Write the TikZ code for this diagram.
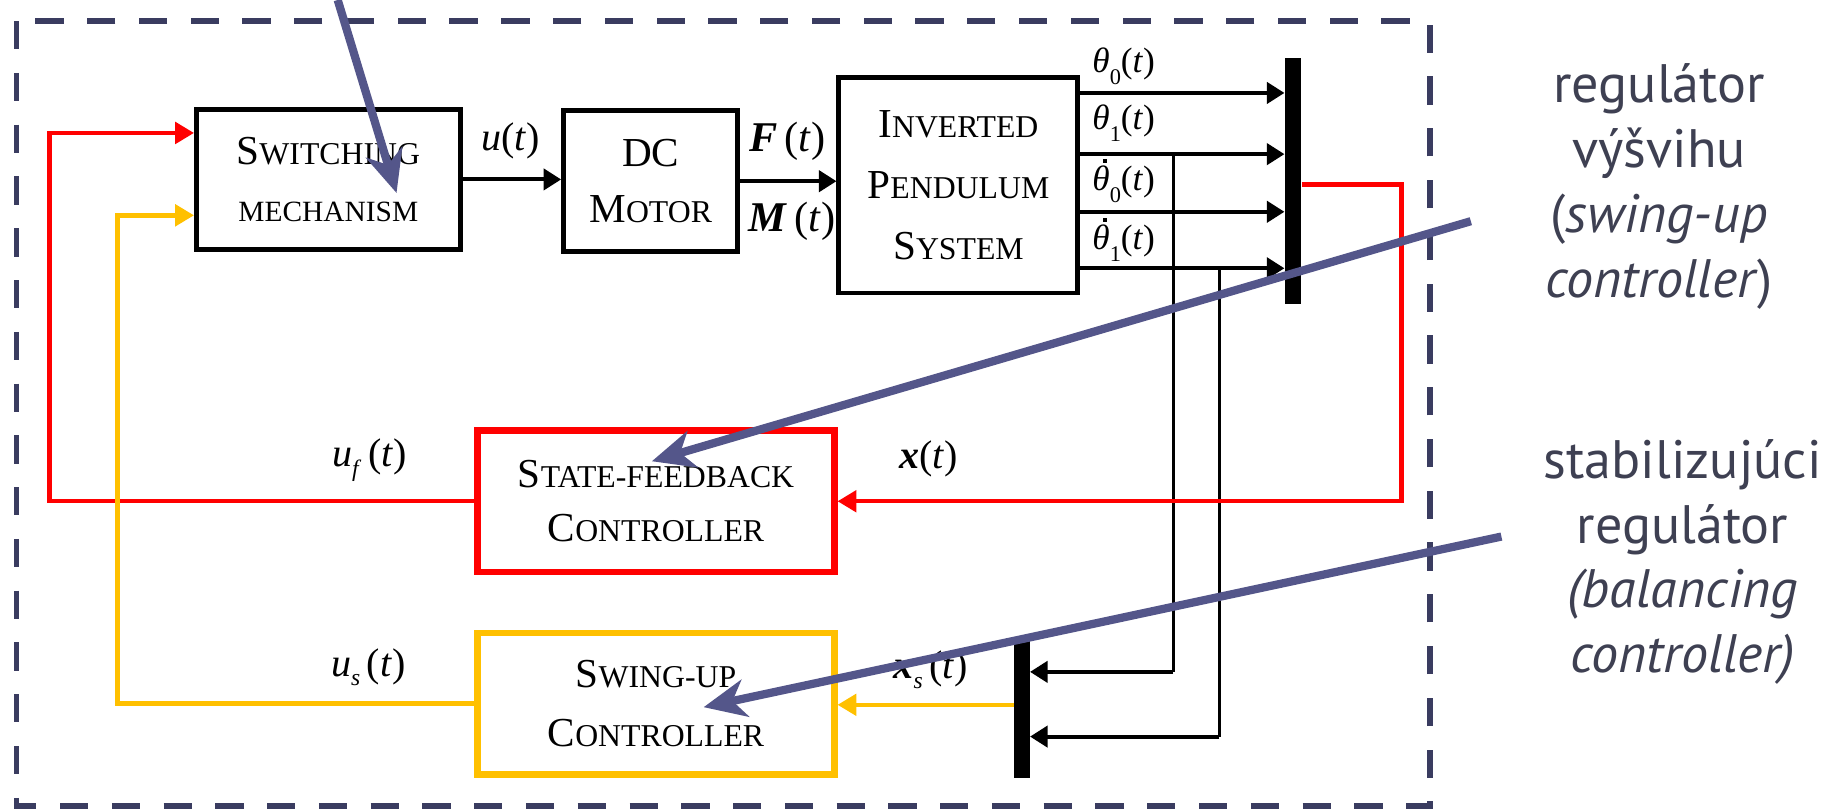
\documentclass[tikz,border=0pt]{standalone}
\usepackage{fontspec}
\setmainfont{Liberation Serif}
\newfontfamily\notefont{PT Sans}
\usetikzlibrary{arrows.meta,calc}

\definecolor{sigred}{RGB}{255,0,0}
\definecolor{siggold}{RGB}{255,192,0}
\definecolor{callout}{RGB}{84,86,138}
\definecolor{framecol}{RGB}{58,60,96}
\definecolor{notetext}{RGB}{62,64,82}

% large initial letter followed by small capitals
\newcommand\capsmall[2]{#1{\fontsize{13.5}{13.5}\selectfont #2}}
% italic variable, lowered index, dotted theta, bold italic variable
\newcommand\var[1]{\textit{#1}}
\newcommand\lowidx[1]{\raisebox{-0.24em}{\fontsize{10}{10}\selectfont #1}}
\newcommand\deepidx[1]{\raisebox{-0.34em}{\fontsize{9.5}{9.5}\selectfont #1}}
\newcommand\bvar[1]{\textbf{\textit{#1}}}
\newcommand\thetadot{{\ooalign{\textit{θ}\cr\hfil\kern0.22em\rule[0.8em]{0.11em}{0.11em}\hfil\cr}}}

\tikzset{
  blk/.style={draw, line width=2.1pt, align=center, inner sep=0pt,
    font=\fontsize{17.5}{24}\selectfont},
  ctrlbox/.style={blk, line width=2.8pt, minimum width=151.5pt, minimum height=60pt},
  muxbar/.style={fill=black, draw=none, inner sep=0pt},
  tipA/.style={-{Triangle[length=7.5pt,width=9pt]}},
  sig/.style={line width=1.7pt, tipA},
  tapline/.style={line width=1.3pt},
  redsig/.style={draw=sigred, line width=1.9pt, -{Triangle[length=8pt,width=9pt]}},
  goldsig/.style={draw=siggold, line width=1.9pt, -{Triangle[length=8pt,width=9pt]}},
  lbl/.style={inner sep=0pt, font=\fontsize{17}{20}\selectfont},
  bigl/.style={inner sep=0pt, font=\fontsize{18}{21}\selectfont},
  thlbl/.style={inner sep=0pt, font=\fontsize{15}{18}\selectfont},
  callarrow/.style={draw=callout, line width=3.5pt,
    -{Stealth[length=18pt,width=16pt,inset=5.5pt]}},
  note/.style={align=center, inner sep=0pt, text=notetext,
    font=\notefont\fontsize{23}{27.5}\selectfont},
  dashframe/.style={draw=framecol, line width=2.5pt, dash pattern=on 12pt off 10pt},
}

\begin{document}
\begin{tikzpicture}[x=0.5pt, y=-0.5pt]
\useasboundingbox (0,0) rectangle (1568,689);

% outer dashed frame
\draw[dashframe] (14,18) rectangle (1215,685);

% blocks
\node[blk, minimum width=112pt, minimum height=59.5pt] (sw) at (279,152.5)
  {\capsmall{S}{WITCHING}\\{\fontsize{12.5}{12.5}\selectfont MECHANISM}};
\node[blk, minimum width=74pt, minimum height=60pt] (dc) at (553,154)
  {DC\\\capsmall{M}{OTOR}};
\node[blk, minimum width=101.5pt, minimum height=91.5pt,
      font=\fontsize{17.5}{26}\selectfont] (ip) at (814.5,157.5)
  {\capsmall{I}{NVERTED}\\\capsmall{P}{ENDULUM}\\\capsmall{S}{YSTEM}};
\node[ctrlbox, draw=sigred, font=\fontsize{17.5}{23}\selectfont] (sf) at (557.5,426)
  {\capsmall{S}{TATE-FEEDBACK}\\\capsmall{C}{ONTROLLER}};
\node[ctrlbox, draw=siggold, font=\fontsize{17.5}{25}\selectfont] (su) at (557.5,598)
  {\capsmall{S}{WING-UP}\\\capsmall{C}{ONTROLLER}};

% multiplexer bars
\node[muxbar, minimum width=7pt, minimum height=104.5pt] (barT) at (1099,153.5) {};
\node[muxbar, minimum width=6.5pt, minimum height=58pt] (barB) at (868.5,603) {};

% forward path
\draw[sig] (sw.east) -- (sw.east -| dc.west);
\draw[sig] (dc.east) -- (dc.east -| ip.west);
\node[lbl] (lu) at (434,120) {\var{u}(\var{t})};
\node[bigl] (lF) at (669,120) {\bvar{F}\,(\var{t})};
\node[bigl] (lM) at (673,188) {\bvar{M}\,(\var{t})};

% measured outputs into the upper bar
\draw[sig] (ip.east |- 0,79)  -- (barT.west |- 0,79);
\draw[sig] (ip.east |- 0,131) -- (barT.west |- 0,131);
\draw[sig] (ip.east |- 0,180) -- (barT.west |- 0,180);
\draw[sig] (ip.east |- 0,228) -- (barT.west |- 0,228);
\node[thlbl] (lt0) at (955,56)  {\var{θ}\deepidx{0}(\var{t})};
\node[thlbl] (lt1) at (955,105) {\var{θ}\deepidx{1}(\var{t})};
\node[thlbl] (ld0) at (955,157) {\thetadot\deepidx{0}(\var{t})};
\node[thlbl] (ld1) at (955,207) {\thetadot\deepidx{1}(\var{t})};

% angle taps into the lower bar
\coordinate (tap1) at (997,131);
\coordinate (bend1) at (997,571);
\coordinate (tap2) at (1036,228);
\coordinate (bend2) at (1036,626);
\draw[tapline] (tap1) -- (bend1);
\draw[sig] (bend1) -- (bend1 -| barB.east);
\draw[tapline] (tap2) -- (bend2);
\draw[sig] (bend2) -- (bend2 -| barB.east);

% state feedback loop
\coordinate (rR) at (1191,157);
\coordinate (rL) at (42,113);
\draw[redsig] (barT.east |- rR) -- (rR) |- (sf.east);
\draw[redsig] (sf.west) -| (rL) -- (rL -| sw.west);
\node[lbl] (lx) at (789,390) {\bvar{x}(\var{t})};
\node[lbl] (luf) at (314,391) {\var{u}\lowidx{\var{f}}\,(\var{t})};

% swing-up loop
\coordinate (gL) at (100,183);
\draw[goldsig] (barB.west |- 0,599) -- (su.east |- 0,599);
\draw[goldsig] (su.west) -| (gL) -- (gL -| sw.west);
\node[lbl] (lxs) at (791,569) {\bvar{x}\lowidx{\var{s}}\,(\var{t})};
\node[lbl] (lus) at (313,567) {\var{u}\lowidx{\var{s}}\,(\var{t})};

% annotations
\node[note] (n1) at (1410,158.5)
  {regulátor\\výšvihu\\(\textit{swing-up}\\\textit{controller})};
\node[note] (n2) at (1430,477.5)
  {stabilizujúci\\regulátor\\\textit{(balancing}\\\textit{controller)}};

\coordinate (c1s) at (287,0);
\coordinate (c1e) at (337,164);
\coordinate (c2s) at (1250,188);
\coordinate (c2e) at (554,392);
\coordinate (c3s) at (1276,456);
\coordinate (c3e) at (598,601);
\draw[callarrow] (c1s) -- (c1e);
\draw[callarrow] (c2s) -- (c2e);
\draw[callarrow] (c3s) -- (c3e);
\end{tikzpicture}
\end{document}
